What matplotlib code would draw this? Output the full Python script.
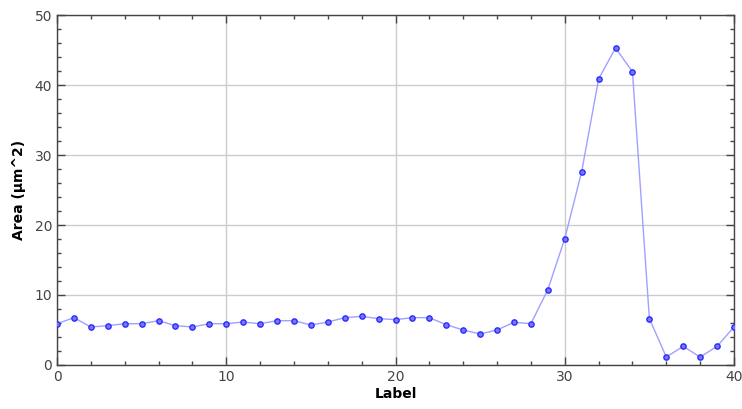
import matplotlib
matplotlib.use("Agg")
import matplotlib.pyplot as plt
from matplotlib.ticker import MultipleLocator

labels = list(range(0, 41))
area = [5.9, 6.76, 5.43, 5.62, 5.9, 5.9, 6.33, 5.62, 5.43, 5.9,
        5.9, 6.14, 5.9, 6.33, 6.33, 5.71, 6.14, 6.76, 6.95, 6.62,
        6.48, 6.76, 6.76, 5.76, 5.0, 4.43, 5.0, 6.1, 5.9, 10.76,
        18.05, 27.62, 40.86, 45.29, 41.9, 6.62, 1.14, 2.67, 1.14, 2.67,
        5.43]

fig = plt.figure(figsize=(7.42, 4.09), dpi=100)
ax = fig.add_axes([57/742, 44/409, (734-57)/742, (365-15)/409])

ax.plot(labels, area, color="#a0a0ff", lw=1.0, zorder=3,
        marker="o", ms=3.8, mfc="#7777ff", mec="#2a2aff", mew=1.0)

ax.set_xlim(0, 40)
ax.set_ylim(0, 50)
ax.xaxis.set_major_locator(MultipleLocator(10))
ax.xaxis.set_minor_locator(MultipleLocator(2))
ax.yaxis.set_major_locator(MultipleLocator(10))
ax.yaxis.set_minor_locator(MultipleLocator(2))
ax.grid(True, which="major", color="#cccccc", lw=1.0, zorder=0)
ax.set_axisbelow(True)

ax.tick_params(which="both", direction="in", top=True, right=True,
               colors="#444444", labelcolor="#444444", labelsize=10)
ax.tick_params(which="major", length=6, width=1)
ax.tick_params(which="minor", length=3, width=1)
for s in ax.spines.values():
    s.set_color("#444444")
    s.set_linewidth(1.0)

ax.set_xlabel("Label", fontsize=10, fontweight="bold", labelpad=2)
ax.set_ylabel("Area (µm^2)", fontsize=10, fontweight="bold", labelpad=6)

fig.savefig("out.png", dpi=100)
